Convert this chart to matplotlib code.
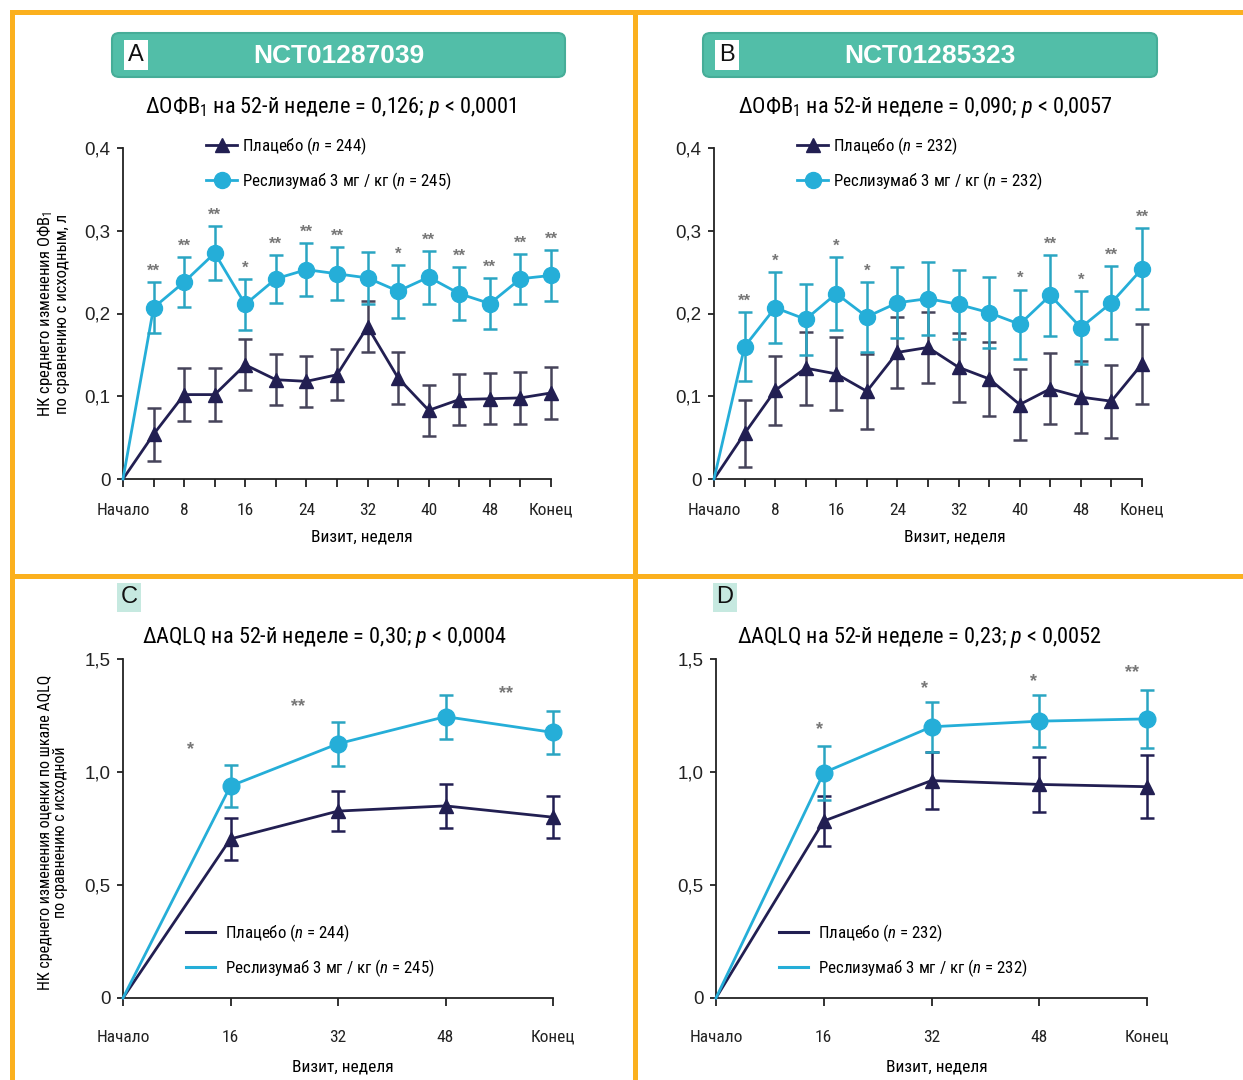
import matplotlib
matplotlib.use("Agg")
import matplotlib.pyplot as plt
from matplotlib import font_manager as fm
from matplotlib.patches import FancyBboxPatch, Rectangle
from matplotlib.lines import Line2D

# pick a narrow sans font if one is installed
_fonts = fm.fontManager.ttflist
_names = {f.name for f in _fonts}
FAM = 'Liberation Sans'
STRETCH = 'normal'
for cand in ['Liberation Sans Narrow', 'Roboto Condensed', 'Open Sans Condensed', 'Noto Sans Condensed']:
    if cand in _names:
        FAM = cand
        break
else:
    if any(f.name == 'DejaVu Sans' and f.stretch in ('condensed', 'semi-condensed') for f in _fonts):
        FAM = 'DejaVu Sans'
        STRETCH = 'condensed'

plt.rcParams['font.family'] = [FAM, 'DejaVu Sans']
plt.rcParams['font.stretch'] = STRETCH
plt.rcParams['mathtext.fontset'] = 'custom'
plt.rcParams['mathtext.rm'] = FAM
plt.rcParams['mathtext.it'] = FAM + ':italic'

# ---------------- data ----------------
baseline = 0.0
weeks_fev = [4, 8, 12, 16, 20, 24, 28, 32, 36, 40, 44, 48, 52, 56]
fev_tick_pos = [0, 8, 16, 24, 32, 40, 48, 56]
fev_tick_lab = ['Начало', '8', '16', '24', '32', '40', '48', 'Конец']

A_res = [0.207, 0.238, 0.273, 0.211, 0.242, 0.253, 0.248, 0.243, 0.227, 0.244, 0.224, 0.212, 0.242, 0.246]
A_res_err = [0.031, 0.030, 0.033, 0.031, 0.029, 0.032, 0.032, 0.031, 0.032, 0.032, 0.032, 0.031, 0.030, 0.031]
A_pla = [0.054, 0.102, 0.102, 0.138, 0.120, 0.118, 0.126, 0.184, 0.122, 0.083, 0.096, 0.097, 0.098, 0.104]
A_pla_err = [0.032, 0.032, 0.032, 0.031, 0.031, 0.031, 0.031, 0.031, 0.031, 0.031, 0.031, 0.031, 0.031, 0.031]
A_stars = ['**', '**', '**', '*', '**', '**', '**', '', '*', '**', '**', '**', '**', '**']

B_res = [0.160, 0.207, 0.193, 0.224, 0.196, 0.213, 0.218, 0.211, 0.201, 0.187, 0.222, 0.183, 0.213, 0.254]
B_res_err = [0.042, 0.043, 0.043, 0.044, 0.042, 0.043, 0.044, 0.042, 0.043, 0.042, 0.049, 0.044, 0.044, 0.049]
B_pla = [0.055, 0.107, 0.134, 0.127, 0.106, 0.153, 0.159, 0.135, 0.121, 0.090, 0.109, 0.099, 0.094, 0.139]
B_pla_err = [0.040, 0.042, 0.044, 0.044, 0.045, 0.043, 0.043, 0.042, 0.045, 0.043, 0.043, 0.044, 0.044, 0.048]
B_stars = ['**', '*', '', '*', '*', '', '', '', '', '*', '**', '*', '**', '**']

weeks_aq = [16, 32, 48, 64]
aq_tick_pos = [0, 16, 32, 48, 64]
aq_tick_lab = ['Начало', '16', '32', '48', 'Конец']

C_res = [0.938, 1.125, 1.245, 1.175]
C_res_err = [0.093, 0.097, 0.097, 0.096]
C_pla = [0.704, 0.827, 0.850, 0.800]
C_pla_err = [0.093, 0.090, 0.097, 0.093]
C_star_x = [10, 26, 57]
C_star_y = [1.10, 1.29, 1.345]
C_star_txt = ['*', '**', '**']

D_res = [0.997, 1.200, 1.225, 1.235]
D_res_err = [0.120, 0.111, 0.115, 0.130]
D_pla = [0.783, 0.962, 0.945, 0.935]
D_pla_err = [0.110, 0.125, 0.122, 0.140]
D_star_x = [15.3, 31, 47.2, 61.8]
D_star_y = [1.186, 1.367, 1.398, 1.44]
D_star_txt = ['*', '*', '*', '**']

trial_ids = ['NCT01287039', 'NCT01285323']
n_pla = [244, 232]
n_res = [245, 232]
fev_titles = ['ΔОФВ$_1$ на 52-й неделе = 0,126; $p$ < 0,0001',
              'ΔОФВ$_1$ на 52-й неделе = 0,090; $p$ < 0,0057']
aq_titles = ['ΔAQLQ на 52-й неделе = 0,30; $p$ < 0,0004',
             'ΔAQLQ на 52-й неделе = 0,23; $p$ < 0,0052']

# ---------------- style ----------------
W, H = 1243, 1080
CYAN = '#25aed8'
CYAN_E = '#2aa5c2'
NAVY = '#221f52'
NAVY_E = '#46445a'
ORANGE = '#fbb01e'
TEAL = '#52bea8'
STAR = '#777777'

fig = plt.figure(figsize=(W / 100, H / 100), dpi=100)


def px_axes(x0, x1, ytop, ybot):
    return fig.add_axes([x0 / W, 1 - ybot / H, (x1 - x0) / W, (ybot - ytop) / H])


def style_axes(ax, xlim, ylim, yticks, ylabels, xpos, xlabs, xminor, xpad):
    ax.set_xlim(*xlim)
    ax.set_ylim(*ylim)
    for s in ['top', 'right']:
        ax.spines[s].set_visible(False)
    for s in ['left', 'bottom']:
        ax.spines[s].set_linewidth(1.3)
        ax.spines[s].set_color('#222222')
    ax.set_yticks(yticks)
    ax.set_yticklabels(ylabels, fontsize=13.5, family='Liberation Sans', stretch='normal')
    ax.set_xticks(xminor)
    ax.set_xticklabels([xlabs[xpos.index(t)] if t in xpos else '' for t in xminor], fontsize=12.5)
    ax.tick_params(axis='x', length=6, width=1.3, pad=xpad, colors='#222222')
    ax.tick_params(axis='y', length=4, width=1.3, pad=5, colors='#222222')
    ax.set_facecolor('none')


def fev_panel(ax, res, res_err, pla, pla_err, stars, npla, nres):
    xs = [0] + weeks_fev
    ax.plot(xs, [baseline] + pla, color=NAVY, lw=2, zorder=3, clip_on=False)
    ax.errorbar(weeks_fev, pla, yerr=pla_err, fmt='none', ecolor=NAVY_E, elinewidth=1.8,
                capsize=5, capthick=1.8, zorder=2, clip_on=False)
    ax.plot(weeks_fev, pla, ls='none', marker='^', ms=10, color=NAVY, zorder=4, clip_on=False)
    ax.plot(xs, [baseline] + res, color=CYAN, lw=2, zorder=5, clip_on=False)
    ax.errorbar(weeks_fev, res, yerr=res_err, fmt='none', ecolor=CYAN_E, elinewidth=1.8,
                capsize=5, capthick=1.8, zorder=5, clip_on=False)
    ax.plot(weeks_fev, res, ls='none', marker='o', ms=11.5, color=CYAN, zorder=6, clip_on=False)
    for x, v, e, s in zip(weeks_fev, res, res_err, stars):
        if s:
            ax.text(x, v + e + 0.013, s, ha='center', va='center', fontsize=12,
                    color=STAR, fontweight='bold', family='Liberation Sans', stretch='normal')
    h1 = Line2D([], [], color=NAVY, lw=2, marker='^', ms=10)
    h2 = Line2D([], [], color=CYAN, lw=2, marker='o', ms=11.5)
    ax.legend([h1, h2], [f'Плацебо ($n$ = {npla})', f'Реслизумаб 3 мг / кг ($n$ = {nres})'],
              loc='upper left', bbox_to_anchor=(0.178, 1.058), frameon=False, fontsize=12.2,
              handlelength=1.85, handletextpad=0.25, labelspacing=0.75, borderaxespad=0)


def aq_panel(ax, res, res_err, pla, pla_err, sx, sy, st, npla, nres):
    xs = [0] + weeks_aq
    ax.plot(xs, [baseline] + pla, color=NAVY, lw=2, zorder=3, clip_on=False)
    ax.errorbar(weeks_aq, pla, yerr=pla_err, fmt='none', ecolor=NAVY, elinewidth=1.8,
                capsize=5, capthick=1.8, zorder=2, clip_on=False)
    ax.plot(weeks_aq, pla, ls='none', marker='^', ms=10, color=NAVY, zorder=4, clip_on=False)
    ax.plot(xs, [baseline] + res, color=CYAN, lw=2, zorder=5, clip_on=False)
    ax.errorbar(weeks_aq, res, yerr=res_err, fmt='none', ecolor=CYAN_E, elinewidth=1.8,
                capsize=5, capthick=1.8, zorder=5, clip_on=False)
    ax.plot(weeks_aq, res, ls='none', marker='o', ms=12, color=CYAN, zorder=6, clip_on=False)
    for x, y, s in zip(sx, sy, st):
        ax.text(x, y, s, ha='center', va='center', fontsize=13, color=STAR,
                fontweight='bold', family='Liberation Sans', stretch='normal')
    h1 = Line2D([], [], color=NAVY, lw=2.2)
    h2 = Line2D([], [], color=CYAN, lw=2.2)
    ax.legend([h1, h2], [f'Плацебо ($n$ = {npla})', f'Реслизумаб 3 мг / кг ($n$ = {nres})'],
              loc='upper left', bbox_to_anchor=(0.13, 0.244), frameon=False, fontsize=12.2,
              handlelength=1.75, handletextpad=0.55, labelspacing=0.8, borderaxespad=0)


fev_yt = [0, 0.1, 0.2, 0.3, 0.4]
fev_yl = ['0', '0,1', '0,2', '0,3', '0,4']
aq_yt = [0, 0.5, 1.0, 1.5]
aq_yl = ['0', '0,5', '1,0', '1,5']
minor_fev = list(range(0, 57, 4))

# Panel A
axA = px_axes(123, 551, 148, 479)
style_axes(axA, (0, 56), (0, 0.4), fev_yt, fev_yl, fev_tick_pos, fev_tick_lab, minor_fev, 11)
fev_panel(axA, A_res, A_res_err, A_pla, A_pla_err, A_stars, n_pla[0], n_res[0])
axA.set_xlabel('Визит, неделя', fontsize=12.5)
axA.xaxis.set_label_coords((362 - 123) / 428, -50 / 331)
axA.set_ylabel('НК среднего изменения ОФВ$_1$\nпо сравнению с исходным, л', fontsize=12,
               linespacing=1.0)
axA.yaxis.set_label_coords(-(123 - 70) / 428, 0.5)

# Panel B
axB = px_axes(714, 1142, 148, 479)
style_axes(axB, (0, 56), (0, 0.4), fev_yt, fev_yl, fev_tick_pos, fev_tick_lab, minor_fev, 11)
fev_panel(axB, B_res, B_res_err, B_pla, B_pla_err, B_stars, n_pla[1], n_res[1])
axB.set_xlabel('Визит, неделя', fontsize=12.5)
axB.xaxis.set_label_coords((955 - 714) / 428, -50 / 331)

# Panel C
axC = px_axes(123, 553, 659, 998)
style_axes(axC, (0, 64), (0, 1.5), aq_yt, aq_yl, aq_tick_pos, aq_tick_lab, aq_tick_pos, 17)
aq_panel(axC, C_res, C_res_err, C_pla, C_pla_err, C_star_x, C_star_y, C_star_txt, n_pla[0], n_res[0])
axC.set_xlabel('Визит, неделя', fontsize=12.5)
axC.xaxis.set_label_coords((343 - 123) / 430, -61 / 339)
axC.set_ylabel('НК среднего изменения оценки по шкале AQLQ\nпо сравнению с исходной',
               fontsize=11.5, linespacing=1.0)
axC.yaxis.set_label_coords(-(123 - 68) / 430, 0.49)

# Panel D
axD = px_axes(716, 1147, 659, 998)
style_axes(axD, (0, 64), (0, 1.5), aq_yt, aq_yl, aq_tick_pos, aq_tick_lab, aq_tick_pos, 17)
aq_panel(axD, D_res, D_res_err, D_pla, D_pla_err, D_star_x, D_star_y, D_star_txt, n_pla[1], n_res[1])
axD.set_xlabel('Визит, неделя', fontsize=12.5)
axD.xaxis.set_label_coords((937 - 716) / 431, -61 / 339)

# titles
for xc, yc, t in [(331, 108, fev_titles[0]), (925, 108, fev_titles[1]),
                  (325, 637, aq_titles[0]), (919, 637, aq_titles[1])]:
    fig.text(xc / W, 1 - yc / H, t, ha='center', va='center', fontsize=16)

# header boxes
for x0, x1, lab, tid in [(112, 565, 'A', trial_ids[0]), (703, 1157, 'B', trial_ids[1])]:
    fig.patches.append(FancyBboxPatch((x0 / W, 1 - 77 / H), (x1 - x0) / W, 44 / H,
                                      boxstyle='round,pad=0,rounding_size=0.006',
                                      transform=fig.transFigure, fc=TEAL, ec='#46ad98', lw=1.5))
    fig.patches.append(Rectangle(((x0 + 12) / W, 1 - 70 / H), 24 / W, 30 / H,
                                 transform=fig.transFigure, fc='white', ec='none'))
    fig.text((x0 + 24) / W, 1 - 55 / H, lab, ha='center', va='center', fontsize=17,
             family='Liberation Sans', stretch='normal', color='#111111')
    fig.text((x0 + x1) / 2 / W, 1 - 56 / H, tid, ha='center', va='center', fontsize=19,
             family='Liberation Sans', stretch='normal', fontweight='bold', color='white')

for x0, lab in [(117, 'C'), (713, 'D')]:
    fig.patches.append(Rectangle((x0 / W, 1 - 612 / H), 24 / W, 29 / H,
                                 transform=fig.transFigure, fc='#c6e9e0', ec='none'))
    fig.text((x0 + 12) / W, 1 - 597 / H, lab, ha='center', va='center', fontsize=17,
             family='Liberation Sans', stretch='normal', color='#111111')

# orange frame
for (x, y, w, h) in [(10, 10, 1233, 5), (10, 10, 5, 1070), (633, 10, 5, 1070), (10, 574, 1233, 5)]:
    fig.patches.append(Rectangle((x / W, 1 - (y + h) / H), w / W, h / H,
                                 transform=fig.transFigure, fc=ORANGE, ec='none'))

fig.savefig('out.png', dpi=100, facecolor='white')
